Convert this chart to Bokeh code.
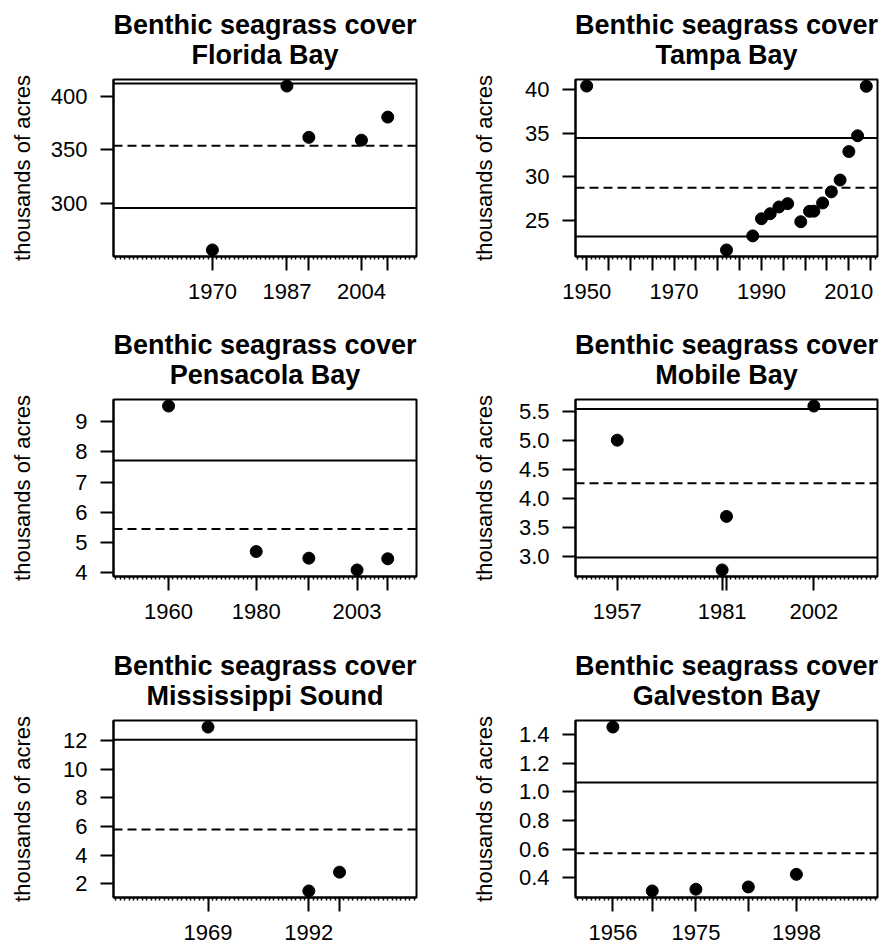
from bokeh.plotting import figure
from bokeh.models import Range1d, FixedTicker, Span, Title
from bokeh.layouts import column, row
from bokeh.embed import file_html
from bokeh.resources import INLINE

# ---------------- data ----------------
main_title = "Benthic seagrass cover"
y_label = "thousands of acres"
x_limits = [1950, 2014]            # common x limits (R pads by 4%)
minor_years = list(range(1948, 2017))

# Florida Bay
fl_years = [1970, 1987, 1992, 2004, 2010]
fl_acres = [256.5, 409.5, 361.6, 359.0, 380.5]
fl_mean, fl_upper, fl_lower = 353.8, 412.0, 295.6
fl_yticks = [300, 350, 400]
fl_ylabels = ["300", "350", "400"]
fl_xticks = [1970, 1987, 1992, 2004, 2010]
fl_xlabels = ["1970", "1987", "", "2004", ""]

# Tampa Bay
tb_years = [1950, 1982, 1988, 1990, 1992, 1994, 1996, 1999, 2001, 2002,
            2004, 2006, 2008, 2010, 2012, 2014]
tb_acres = [40.38, 21.62, 23.23, 25.19, 25.77, 26.54, 26.92, 24.85, 26.04,
            26.06, 27.0, 28.27, 29.62, 32.88, 34.69, 40.35]
tb_mean, tb_upper, tb_lower = 28.73, 34.43, 23.15
tb_yticks = [25, 30, 35, 40]
tb_ylabels = ["25", "30", "35", "40"]
tb_xticks = [1950, 1955, 1960, 1965, 1970, 1975, 1980, 1985, 1990, 1995,
             2000, 2005, 2010, 2015]
tb_xlabels = ["1950", "", "", "", "1970", "", "", "", "1990", "", "", "",
              "2010", ""]

# Pensacola Bay
pb_years = [1960, 1980, 1992, 2003, 2010]
pb_acres = [9.52, 4.70, 4.48, 4.09, 4.46]
pb_mean, pb_upper, pb_lower = 5.445, 7.72, None
pb_yticks = [4, 5, 6, 7, 8, 9]
pb_ylabels = ["4", "5", "6", "7", "8", "9"]
pb_xticks = [1960, 1980, 1992, 2003, 2010]
pb_xlabels = ["1960", "1980", "", "2003", ""]

# Mobile Bay
mb_years = [1957, 1981, 1982, 2002]
mb_acres = [5.0, 2.77, 3.69, 5.586]
mb_mean, mb_upper, mb_lower = 4.26, 5.535, 2.983
mb_yticks = [3.0, 3.5, 4.0, 4.5, 5.0, 5.5]
mb_ylabels = ["3.0", "3.5", "4.0", "4.5", "5.0", "5.5"]
mb_xticks = [1957, 1981, 1982, 2002]
mb_xlabels = ["1957", "1981", "", "2002"]

# Mississippi Sound
ms_years = [1969, 1992, 1999]
ms_acres = [12.93, 1.51, 2.82]
ms_mean, ms_upper, ms_lower = 5.8, 12.05, None
ms_yticks = [2, 4, 6, 8, 10, 12]
ms_ylabels = ["2", "4", "6", "8", "10", "12"]
ms_xticks = [1969, 1992, 1999]
ms_xlabels = ["1969", "1992", ""]

# Galveston Bay
gb_years = [1956, 1965, 1975, 1987, 1998]
gb_acres = [1.454, 0.308, 0.320, 0.336, 0.424]
gb_mean, gb_upper, gb_lower = 0.572, 1.066, None
gb_yticks = [0.4, 0.6, 0.8, 1.0, 1.2, 1.4]
gb_ylabels = ["0.4", "0.6", "0.8", "1.0", "1.2", "1.4"]
gb_xticks = [1956, 1965, 1975, 1987, 1998]
gb_xlabels = ["1956", "", "1975", "", "1998"]

# ---------------- layout / style ----------------
FONT = "Liberation Sans"
AX_FS = 22
TITLE_FS = "27px"
COL_BORDERS = [(113, 26), (133, 7)]     # (left, right) borders per column
ROW_HEIGHTS = [320, 321, 306]
ROW_BOTTOM = [64, 65, 50]
TOP_BORDER = 79

CHAR_W = {".": 0.278}


def label_width(s):
    return sum(CHAR_W.get(c, 0.556) for c in s) * AX_FS


def make_panel(name, years, acres, mean_v, upper_v, lower_v,
               yticks, ylabels, xticks, xlabels, ci, ri):
    lo, hi = min(acres), max(acres)
    ypad = 0.04 * (hi - lo)
    xpad = 0.04 * (x_limits[1] - x_limits[0])
    bl, br = COL_BORDERS[ci]
    p = figure(width=442, height=ROW_HEIGHTS[ri],
               x_range=Range1d(x_limits[0] - xpad, x_limits[1] + xpad),
               y_range=Range1d(lo - ypad, hi + ypad),
               output_backend="svg", toolbar_location=None,
               min_border_left=bl, min_border_right=br,
               min_border_top=TOP_BORDER, min_border_bottom=ROW_BOTTOM[ri])
    p.xgrid.visible = False
    p.ygrid.visible = False
    p.background_fill_color = "white"
    p.border_fill_color = "white"
    p.outline_line_color = "black"
    p.outline_line_width = 2
    p.outline_line_alpha = 1.0

    # titles (inner line added first -> nearest the frame)
    t2 = Title(text=name, align="center", text_font=FONT,
               text_font_size=TITLE_FS, text_font_style="bold",
               text_color="black", standoff=19)
    p.add_layout(t2, "above")
    t1 = Title(text=main_title, align="center", text_font=FONT,
               text_font_size=TITLE_FS, text_font_style="bold",
               text_color="black", standoff=-23)
    p.add_layout(t1, "above")

    # x axis
    xa = p.xaxis[0]
    xa.ticker = FixedTicker(ticks=xticks, minor_ticks=minor_years)
    xa.major_label_overrides = {t: l for t, l in zip(xticks, xlabels)}
    xa.major_tick_out = 14
    xa.major_tick_in = 0
    xa.minor_tick_out = 3
    xa.minor_tick_in = 0
    xa.major_tick_line_width = 2
    xa.minor_tick_line_width = 1.5
    xa.axis_line_width = 2
    xa.axis_line_color = "black"
    xa.major_tick_line_color = "black"
    xa.minor_tick_line_color = "black"
    xa.major_label_text_font = FONT
    xa.major_label_text_font_size = f"{AX_FS}px"
    xa.major_label_text_color = "black"
    xa.major_label_standoff = 13

    # y axis
    ya = p.yaxis[0]
    ya.ticker = FixedTicker(ticks=yticks)
    ya.major_label_overrides = {t: l for t, l in zip(yticks, ylabels)}
    ya.major_tick_out = 13
    ya.major_tick_in = 0
    ya.minor_tick_line_color = None
    ya.major_tick_line_width = 2
    ya.axis_line_width = 2
    ya.axis_line_color = "black"
    ya.major_tick_line_color = "black"
    ya.major_label_text_font = FONT
    ya.major_label_text_font_size = f"{AX_FS}px"
    ya.major_label_text_color = "black"
    ya.major_label_standoff = 13
    ya.axis_label = y_label
    ya.axis_label_text_font = FONT
    ya.axis_label_text_font_size = f"{AX_FS}px"
    ya.axis_label_text_font_style = "normal"
    ya.axis_label_text_color = "black"
    w = max(label_width(s) for s in ylabels)
    ya.axis_label_standoff = int(round(49.3 - w))

    # reference lines
    for v, dash in ((upper_v, "solid"), (lower_v, "solid"), (mean_v, "9 5")):
        if v is None:
            continue
        p.add_layout(Span(location=v, dimension="width", line_color="black",
                          line_width=2, line_dash=dash))

    p.scatter(years, acres, size=12, color="black", marker="circle")
    return p


p1 = make_panel("Florida Bay", fl_years, fl_acres, fl_mean, fl_upper, fl_lower,
                fl_yticks, fl_ylabels, fl_xticks, fl_xlabels, 0, 0)
p2 = make_panel("Tampa Bay", tb_years, tb_acres, tb_mean, tb_upper, tb_lower,
                tb_yticks, tb_ylabels, tb_xticks, tb_xlabels, 1, 0)
p3 = make_panel("Pensacola Bay", pb_years, pb_acres, pb_mean, pb_upper, pb_lower,
                pb_yticks, pb_ylabels, pb_xticks, pb_xlabels, 0, 1)
p4 = make_panel("Mobile Bay", mb_years, mb_acres, mb_mean, mb_upper, mb_lower,
                mb_yticks, mb_ylabels, mb_xticks, mb_xlabels, 1, 1)
p5 = make_panel("Mississippi Sound", ms_years, ms_acres, ms_mean, ms_upper, ms_lower,
                ms_yticks, ms_ylabels, ms_xticks, ms_xlabels, 0, 2)
p6 = make_panel("Galveston Bay", gb_years, gb_acres, gb_mean, gb_upper, gb_lower,
                gb_yticks, gb_ylabels, gb_xticks, gb_xlabels, 1, 2)

layout = column(row(p1, p2), row(p3, p4), row(p5, p6))

with open("out.html", "w") as f:
    f.write(file_html(layout, INLINE))
